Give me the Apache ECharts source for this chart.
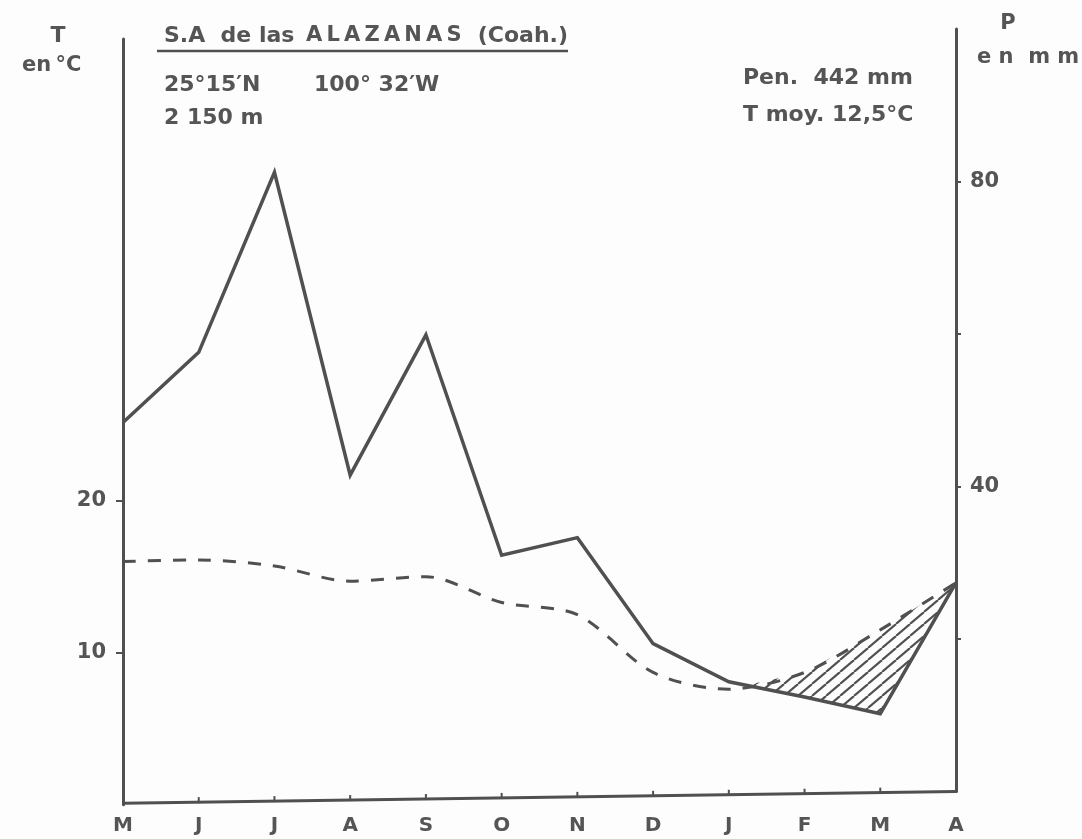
<!DOCTYPE html>
<html>
<head>
<meta charset="utf-8">
<script src="https://cdn.jsdelivr.net/npm/echarts@6/dist/echarts.min.js"></script>
<style>
html,body{margin:0;padding:0;background:#fdfdfd;}
#c{width:1082px;height:839px;}
</style>
</head>
<body>
<div id="c"></div>
<script>
// ---- data ----
const months = ['M','J','J','A','S','O','N','D','J','F','M','A'];
const precip = [48.4, 57.6, 81.2, 41.5, 59.9, 31.0, 33.3, 19.4, 14.4, 12.4, 10.2, 27.4]; // mm (solid)
const temp   = [16.0, 16.1, 15.7, 14.7, 15.0, 13.3, 12.5, 8.7, 7.6, 8.7, 11.5, 14.6];   // °C (dashed)
const tempTicks = [10, 20];
const precipTicks = [20, 40, 60, 80];
const precipLabels = [40, 80];

const INK = '#505050';
const TXT = '#555555';
const FONT = 'DejaVu Sans';

const chart = echarts.init(document.getElementById('c'), null, {renderer: 'canvas'});

// hatch pattern
const pc = document.createElement('canvas');
pc.width = 14; pc.height = 12;
const pctx = pc.getContext('2d');
pctx.strokeStyle = INK; pctx.lineWidth = 2.1;
[-14, 0, 14].forEach(function (o) {
  pctx.beginPath(); pctx.moveTo(o, 12); pctx.lineTo(o + 14, 0); pctx.stroke();
});
const hatch = {image: pc, repeat: 'repeat'};

function txt(left, cy, text, size, align) {
  return {
    type: 'text', x: left, y: cy, z: 10,
    style: {text: text, fill: TXT, font: 'bold ' + size + 'px "' + FONT + '"',
            textAlign: align || 'left', textVerticalAlign: 'middle'}
  };
}

function renderDry(params, api) {
  const n = months.length;
  const T = [], P = [];
  for (let i = 0; i < n; i++) {
    T.push(chart.convertToPixel({gridIndex: 0}, [i, temp[i]]));
    P.push(api.coord([i, precip[i]]));
  }
  const children = [];
  let upper = [], lower = [];
  function flush() {
    if (upper.length > 1) {
      children.push({type: 'polygon', shape: {points: upper.concat(lower.slice().reverse())},
                     style: {fill: hatch, stroke: null}});
    }
    upper = []; lower = [];
  }
  for (let i = 0; i < n; i++) {
    const d = P[i][1] - T[i][1];
    if (i > 0) {
      const dp = P[i - 1][1] - T[i - 1][1];
      if ((dp > 0) !== (d > 0)) {
        const f = dp / (dp - d);
        const x = T[i - 1][0] + f * (T[i][0] - T[i - 1][0]);
        const y = T[i - 1][1] + f * (T[i][1] - T[i - 1][1]);
        upper.push([x, y]); lower.push([x, y]);
        if (!(d > 0)) flush();
      }
    }
    if (d > 0) { upper.push(T[i]); lower.push(P[i]); }
  }
  flush();
  // baseline: zero of the T axis on the left to zero of the P axis on the right
  const b0 = chart.convertToPixel({gridIndex: 0}, [0, 0]);
  const b1 = api.coord([n - 1, 0]);
  children.push({type: 'line', shape: {x1: b0[0], y1: b0[1] - 1.5, x2: b1[0], y2: b1[1]},
                 style: {stroke: INK, lineWidth: 3}});
  for (let i = 1; i < n - 1; i++) {
    const x = api.coord([i, 0])[0];
    const y = b0[1] - 1.5 + (b1[1] - b0[1] + 1.5) * (x - b0[0]) / (b1[0] - b0[0]);
    children.push({type: 'line', shape: {x1: x, y1: y + 1, x2: x, y2: y - 5},
                   style: {stroke: INK, lineWidth: 2}});
  }
  return {type: 'group', children: children};
}

const option = {
  animation: false,
  backgroundColor: '#fdfdfd',
  grid: [
    {left: 123, right: 126, top: 39, bottom: 34.3},
    {left: 123, right: 126, top: 29, bottom: 47.4}
  ],
  xAxis: [
    {type: 'category', gridIndex: 0, data: months, boundaryGap: false,
     axisLine: {show: false}, axisTick: {show: false}, splitLine: {show: false},
     axisLabel: {color: TXT, fontFamily: FONT, fontWeight: 'bold', fontSize: 20, margin: 11}},
    {type: 'category', gridIndex: 1, data: months, boundaryGap: false, show: false}
  ],
  yAxis: [
    {type: 'value', gridIndex: 0, position: 'left', min: 0, max: 50.37,
     splitLine: {show: false},
     axisLine: {show: true, lineStyle: {color: INK, width: 3}},
     axisTick: {show: true, customValues: tempTicks, length: 7, lineStyle: {color: INK, width: 2}},
     axisLabel: {customValues: tempTicks, color: TXT, fontFamily: FONT, fontWeight: 'bold', fontSize: 21, margin: 17}},
    {type: 'value', gridIndex: 1, position: 'right', min: 0, max: 100,
     splitLine: {show: false},
     axisLine: {show: true, lineStyle: {color: INK, width: 3}},
     axisTick: {show: true, customValues: precipTicks, length: 5, lineStyle: {color: INK, width: 2}},
     axisLabel: {customValues: precipLabels, color: TXT, fontFamily: FONT, fontWeight: 'bold', fontSize: 21, margin: 14}}
  ],
  series: [
    {type: 'custom', xAxisIndex: 1, yAxisIndex: 1, data: [[0, 0]], renderItem: renderDry,
     clip: false, z: 1, silent: true},
    {type: 'line', xAxisIndex: 1, yAxisIndex: 1, data: precip, symbol: 'none', z: 3,
     lineStyle: {color: INK, width: 3.5, type: 'solid', join: 'miter'}},
    {type: 'line', xAxisIndex: 0, yAxisIndex: 0, data: temp, symbol: 'none', smooth: 0.3, z: 2,
     lineStyle: {color: INK, width: 3, type: [13, 12]}}
  ],
  graphic: [
    txt(58, 36, 'T', 22, 'center'),
    txt(22, 66, 'en\u2009°C', 21),
    txt(164, 36, 'S.A  de las', 22),
    txt(306, 36, 'A\u2009L\u2009A\u2009Z\u2009A\u2009N\u2009A\u2009S', 21),
    txt(568, 36, '(Coah.)', 22, 'right'),
    {type: 'line', z: 10, shape: {x1: 157, y1: 51, x2: 568, y2: 51}, style: {stroke: INK, lineWidth: 2.5}},
    txt(164, 85, '25°15′N', 22),
    txt(314, 85, '100° 32′W', 22),
    txt(164, 118, '2 150 m', 22),
    txt(743, 78, 'Pen.  442 mm', 22),
    txt(743, 115, 'T moy. 12,5°C', 22),
    txt(1008, 24, 'P', 21, 'center'),
    txt(977, 58, 'e n  m m', 21)
  ]
};
chart.setOption(option);
</script>
</body>
</html>
